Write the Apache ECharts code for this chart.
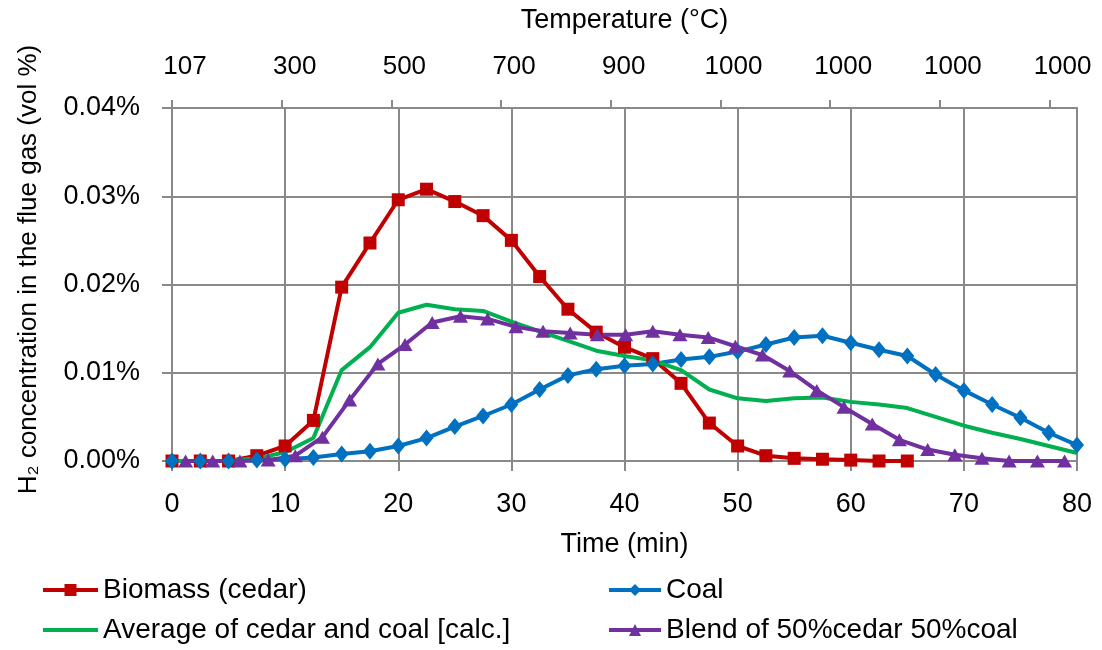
<!DOCTYPE html>
<html>
<head>
<meta charset="utf-8">
<script src="https://cdn.jsdelivr.net/npm/echarts@6/dist/echarts.min.js"></script>
<style>html,body{margin:0;padding:0;background:#fff;}#c{width:1102px;height:650px;}</style>
</head>
<body>
<div id="c"></div>
<script>
// Time (min) for cedar, coal and calculated average
var timeMin = [0, 2.5, 5, 7.5, 10, 12.5, 15, 17.5, 20, 22.5, 25, 27.5, 30, 32.5, 35, 37.5, 40, 42.5, 45, 47.5, 50, 52.5, 55, 57.5, 60, 62.5, 65, 67.5, 70, 72.5, 75, 77.5, 80];
// H2 concentration (vol %)
var cedar = [0, 0, 0, 0.0006, 0.0017, 0.0046, 0.0197, 0.0247, 0.0296, 0.0308, 0.0294, 0.0278, 0.0250, 0.0209, 0.0172, 0.0146, 0.0129, 0.0116, 0.0088, 0.0043, 0.0017, 0.0006, 0.0003, 0.0002, 0.0001, 0, 0];
var coal = [0, 0, 0, 0.0001, 0.0002, 0.0004, 0.0008, 0.0011, 0.0017, 0.0026, 0.0039, 0.0051, 0.0064, 0.0081, 0.0097, 0.0104, 0.0108, 0.0110, 0.0115, 0.0118, 0.0124, 0.0132, 0.0140, 0.0142, 0.0134, 0.0126, 0.0119, 0.0098, 0.0080, 0.0064, 0.0049, 0.0032, 0.0018];
var average = [0, 0, 0, 0.0003, 0.0010, 0.0026, 0.0103, 0.0129, 0.0168, 0.0177, 0.0172, 0.0170, 0.0158, 0.0147, 0.0136, 0.0125, 0.0119, 0.0114, 0.0103, 0.0081, 0.0071, 0.0068, 0.0071, 0.0072, 0.0067, 0.0064, 0.0060, 0.0050, 0.0040, 0.0032, 0.0025, 0.0017, 0.0009];
// Blend sampled at its own times
var blendTime = [1.2, 3.6, 6.0, 8.5, 10.9, 13.3, 15.7, 18.2, 20.6, 23.0, 25.5, 27.9, 30.4, 32.8, 35.2, 37.6, 40.1, 42.5, 44.9, 47.4, 49.8, 52.2, 54.6, 57.0, 59.4, 61.9, 64.3, 66.8, 69.2, 71.6, 74.0, 76.5, 78.9];
var blend = [0, 0, 0, 0.0001, 0.0006, 0.0027, 0.0069, 0.0110, 0.0132, 0.0157, 0.0164, 0.0161, 0.0152, 0.0147, 0.0145, 0.0143, 0.0143, 0.0147, 0.0143, 0.0140, 0.0130, 0.0120, 0.0102, 0.0080, 0.0061, 0.0042, 0.0024, 0.0013, 0.0007, 0.0003, 0, 0, 0];
// Top axis temperature labels
var tempLabels = ['107', '300', '500', '700', '900', '1000', '1000', '1000', '1000'];
var tempTickPos = [0, 10, 20, 30, 40, 50, 60, 70, 80];
var seriesNames = ['Biomass (cedar)', 'Coal', 'Average of cedar and coal [calc.]', 'Blend of 50%cedar 50%coal'];

function pairs(xs, ys) { var out = []; for (var i = 0; i < ys.length; i++) out.push([xs[i], ys[i]]); return out; }

var FONT = '"Liberation Sans", Arial, sans-serif';
var GRID = '#898989';
var chart = echarts.init(document.getElementById('c'), null, {renderer: 'canvas'});
var legendBase = function (item, left, top, w) {
  return {data: [item], left: left, top: top, orient: 'horizontal', itemWidth: w, itemHeight: 15, itemGap: 5,
    lineStyle: {width: 4}, textStyle: {fontFamily: FONT, fontSize: 28, color: '#000'}, selectedMode: false, padding: 0};
};
chart.setOption({
  animation: false,
  backgroundColor: '#fff',
  grid: {left: 172, right: 25, top: 108, bottom: 189, containLabel: false, outerBoundsMode: 'none'},
  legend: [
    legendBase(seriesNames[0], 41, 576, 55),
    legendBase(seriesNames[1], 607, 576, 52),
    legendBase({name: seriesNames[2], itemStyle: {opacity: 0}}, 41, 616, 55),
    legendBase(seriesNames[3], 607, 616, 52)
  ],
  xAxis: [{
    type: 'value', position: 'bottom', min: 0, max: 80, interval: 10,
    name: 'Time (min)', nameLocation: 'middle', nameGap: 70,
    nameTextStyle: {fontFamily: FONT, fontSize: 27, color: '#000'},
    axisLine: {show: true, lineStyle: {color: GRID, width: 2}},
    axisTick: {show: true, inside: false, length: 10, lineStyle: {color: GRID, width: 2}},
    axisLabel: {fontFamily: FONT, fontSize: 27, color: '#000', margin: 30},
    splitLine: {show: true, lineStyle: {color: GRID, width: 2}}
  }, {
    type: 'value', position: 'top', min: 0, max: 82.5, interval: 10,
    name: 'Temperature (°C)', nameLocation: 'middle', nameGap: 74,
    nameTextStyle: {fontFamily: FONT, fontSize: 27, color: '#000'},
    axisLine: {show: true, lineStyle: {color: GRID, width: 2}},
    axisTick: {show: true, inside: false, length: 8, customValues: tempTickPos, lineStyle: {color: GRID, width: 2}},
    axisLabel: {
      customValues: tempTickPos, margin: 28, color: '#000',
      formatter: function (v) { var i = Math.round(v / 10); return (i >= 0 && i < tempLabels.length && Math.abs(v - i * 10) < 1e-6) ? '{t|' + tempLabels[i] + '}' : ''; },
      rich: {t: {fontFamily: FONT, fontSize: 26, color: '#000', padding: [0, 0, 0, 26]}}
    },
    splitLine: {show: false}
  }],
  yAxis: {
    type: 'value', min: 0, max: 0.04, interval: 0.01,
    name: 'H\u2082 concentration in the flue gas (vol %)', nameLocation: 'middle', nameGap: 130, nameRotate: 90,
    nameTextStyle: {fontFamily: FONT, fontSize: 26, color: '#000', padding: [0, 0, 0, 30]},
    axisLine: {show: true, lineStyle: {color: GRID, width: 2}},
    axisTick: {show: true, inside: false, length: 10, lineStyle: {color: GRID, width: 2}},
    axisLabel: {fontFamily: FONT, fontSize: 27, color: '#000', margin: 32, formatter: function (v) { return v.toFixed(2) + '%'; }},
    splitLine: {show: true, lineStyle: {color: GRID, width: 2}}
  },
  series: [{
    name: seriesNames[0], type: 'line', xAxisIndex: 0, data: pairs(timeMin, cedar),
    symbol: 'rect', symbolSize: 13, showAllSymbol: true,
    lineStyle: {color: '#C00000', width: 4}, itemStyle: {color: '#C00000'}
  }, {
    name: seriesNames[1], type: 'line', xAxisIndex: 0, data: pairs(timeMin, coal),
    symbol: 'diamond', symbolSize: [14, 17], showAllSymbol: true,
    lineStyle: {color: '#0070C0', width: 4}, itemStyle: {color: '#0070C0'}
  }, {
    name: seriesNames[2], type: 'line', xAxisIndex: 0, data: pairs(timeMin, average),
    symbol: 'none',
    lineStyle: {color: '#00B050', width: 4}, itemStyle: {color: '#00B050'}
  }, {
    name: seriesNames[3], type: 'line', xAxisIndex: 0, data: pairs(blendTime, blend),
    symbol: 'triangle', symbolSize: [15, 13], showAllSymbol: true,
    lineStyle: {color: '#7030A0', width: 4}, itemStyle: {color: '#7030A0'}
  }]
});
</script>
</body>
</html>
